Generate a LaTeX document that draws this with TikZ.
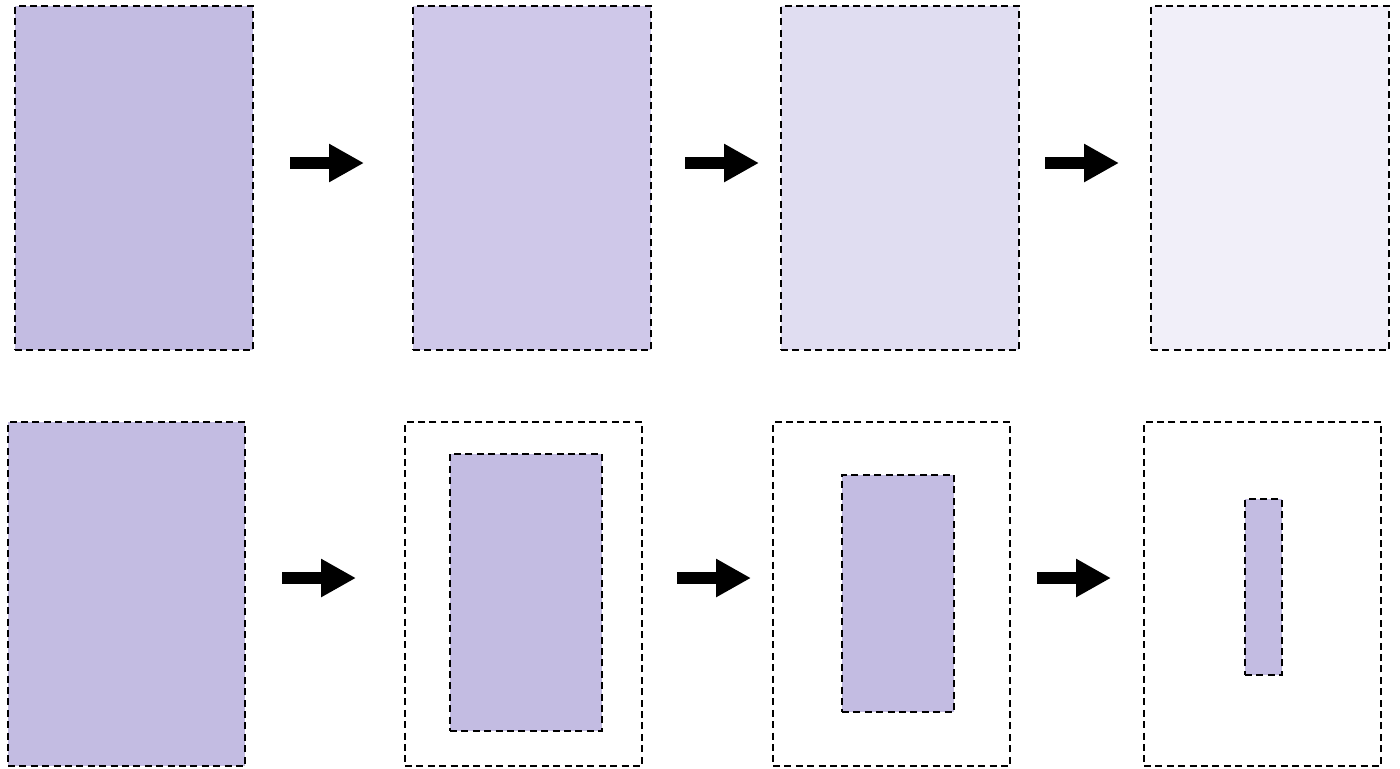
\documentclass[tikz,border=0pt]{standalone}
\usetikzlibrary{arrows.meta}
\definecolor{lav1}{RGB}{195,188,226}
\definecolor{lav2}{RGB}{207,200,233}
\definecolor{lav3}{RGB}{224,221,241}
\definecolor{lav4}{RGB}{241,239,249}
\begin{document}
\begin{tikzpicture}[x=0.5pt,y=-0.5pt,
  panel/.style={draw=black, line width=0.75pt, dash pattern=on 3.5pt off 2.2pt,
    inner sep=0pt, outer sep=0pt, minimum width=119pt, minimum height=172pt},
  flow/.style={line width=6pt, -{Triangle[length=17.5pt,width=18pt]}}]
\useasboundingbox (0,0) rectangle (1400,768);

% top row: fading fill
\node[panel, fill=lav1] (t1) at (134,178) {};
\node[panel, fill=lav2] (t2) at (532,178) {};
\node[panel, fill=lav3] (t3) at (900,178) {};
\node[panel, fill=lav4] (t4) at (1270,178) {};

\coordinate (ta1) at (290,163); \coordinate (tb1) at (364,163);
\coordinate (ta2) at (685,163); \coordinate (tb2) at (759,163);
\coordinate (ta3) at (1045,163); \coordinate (tb3) at (1119,163);
\draw[flow] (ta1) -- (tb1);
\draw[flow] (ta2) -- (tb2);
\draw[flow] (ta3) -- (tb3);

% bottom row: shrinking region
\node[panel, fill=lav1, minimum width=118.5pt] (b1) at (126.5,594) {};
\node[panel, minimum width=118.5pt] (b2) at (523.5,594) {};
\node[panel, minimum width=118.5pt] (b3) at (891.5,594) {};
\node[panel, minimum width=118.5pt] (b4) at (1262.5,594) {};
\node[panel, fill=lav1, minimum width=76pt, minimum height=138.5pt] (c2) at (526,592.5) {};
\node[panel, fill=lav1, minimum width=56pt, minimum height=118.5pt] (c3) at (898,593.5) {};
\node[panel, fill=lav1, minimum width=18.5pt, minimum height=88pt] (c4) at (1263.5,587) {};

\coordinate (ba1) at (282,578); \coordinate (bb1) at (356,578);
\coordinate (ba2) at (677,578); \coordinate (bb2) at (751,578);
\coordinate (ba3) at (1037,578); \coordinate (bb3) at (1111,578);
\draw[flow] (ba1) -- (bb1);
\draw[flow] (ba2) -- (bb2);
\draw[flow] (ba3) -- (bb3);
\end{tikzpicture}
\end{document}
